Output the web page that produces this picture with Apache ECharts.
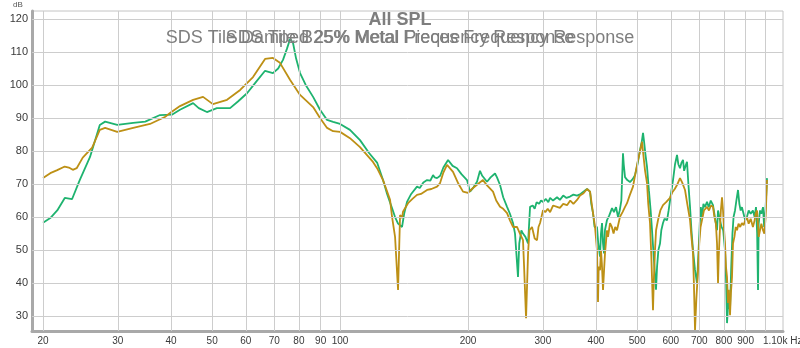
<!DOCTYPE html>
<html>
<head>
<meta charset="utf-8">
<script src="https://cdn.jsdelivr.net/npm/echarts@6/dist/echarts.min.js"></script>
<style>html,body{margin:0;padding:0;background:#fff}#c{width:800px;height:348px}</style>
</head>
<body>
<div id="c"></div>
<script>
// ---- data (frequency in Hz, level in dB) ----
const greenFreq = [20,20.8,21.6,22.5,23.4,24.4,25.8,27.2,28.0,29.9,32.6,34.8,37.7,40.2,42,45.1,46.5,48.6,51.3,55.1,57.5,60.4,63.5,66.6,69.5,71.5,73.4,75,76.3,77.5,78.8,80.5,83,86.4,89.7,93.2,96.3,100,105.5,111.4,117,122.2,126.2,129,132.5,134.7,136.9,139.9,141.5,143.7,147,151.7,154,157,160.2,163,165.5,167,169.1,172,175,179.5,181.4,184,188.4,193,198.9,202.2,206,210,213.4,216,221.7,226,231.5,234,237.9,242,247.1,251,255.2,258,262.2,264,267,269.4,273,276.9,279.9,284,287,290,294,297,300.3,305,309,312,317,324,329,335,341,347.6,354,361,368,375,381.1,387.4,390,393.7,397,402.3,405,408.9,411,413.4,415.6,417.9,420,424.7,430,436.4,441,446,450.8,455,459,463.1,465,468.2,474,481,488,494.3,501,507.9,513,516.2,519,523,527.5,533,538,542,547,553.8,557,561,566,570,575.2,580,587.9,593,599,607.3,614,620.6,625,630.7,636,641.1,645,650,655.1,660,665.9,671,676.8,684,691.6,697,702,706,710.6,716,722,730.1,737,745,754.2,762,766,770.8,775,783.4,790,797,804.9,810,813.7,820,827,832,838,843,849.7,856,863.6,870,876,882.1,890,898,906.3,915,925,936.3,945,952,958,962.5,966,973,980,988.9,995,1003,1010.6];
const greenDb   = [58.3,59.7,62,65.8,65.4,71.2,78.2,87.9,88.9,87.9,88.5,88.9,90.9,91,92.5,94.5,93,91.8,93,93,95,97.5,101,104.3,103.6,105,107.6,111,114,112.7,108,103.6,100,96.4,92.5,89.4,88.8,88.2,86.4,83.3,79.4,76.5,71.2,67,62.7,60,58,57,61,64.6,67,69.2,68.8,70.5,71.2,71,72.7,72,71.8,72.5,75,77.3,77,75.5,74.8,73,71.2,67.7,69,70.7,74,72.5,70.7,72,73.2,72,69.7,66,63.1,61,58.2,55,41.9,52,56,55,54,52,63.1,63.5,62.5,64.5,64,65,64.6,65.5,64.5,65.8,65,66,65.2,66.5,65.8,66.2,66.8,66.5,67,67.8,68.5,67.7,64,61.2,57,57,52,48,55,58.2,52,49,56,59.1,60.5,62.7,61.5,63,60,62,65,79.3,76,72.1,71.2,70.6,71.5,72.7,76,80.3,83,85.5,83,79,75.2,68,62,56,48,38,45,50,52,56,58.2,59.5,59,62,66,71.2,76,78.8,76,74.8,76.5,77.3,74,75.5,76.7,70,63.1,56,50,44,40,49,58,63,60,64,63,64.6,63,65,63.6,60,58,56,62,59,57,56,50,40,27.9,35,31.8,44,55,60,62,65,68.2,64,62,63,61,59,60,62,61,62,60,63,55,37.9,58,62,61,63,57,63,71.8];

const goldFreq = [20,20.8,21.6,22.5,23,23.5,24.0,24.8,26.1,27.2,28.0,29.9,32.6,35.7,38.7,39.8,42.0,45.1,47.6,50.2,54.2,58.2,62.4,66.6,69.5,72.2,76.3,80.5,86.4,89.7,93.2,96.3,100,105.5,111.4,119.5,122.2,126.2,131.1,132.5,134.7,136.9,138.4,139.9,140.6,142,144.5,148,151.7,155,160.2,164,169.1,171.9,175,178.5,184.4,190,194.7,200,205.5,211,216.9,222,229,233,237.9,242,247.1,251,255.2,260.8,265,269.4,271,273.9,275.5,276.9,279,282.9,287,290.7,293,295.5,300.3,304,308,312,317,324,329,335,342,348,354,361,367,374,381.1,387.4,393.7,398,402.3,404.5,406,408.9,411,413,415.6,418,420.1,424.7,427,431.7,436,440,444,448.3,455.7,462,468,473.3,480,488.9,495,502.4,508,513.4,517,522,527.5,531,536.1,540,544.9,547,550.8,554,559.9,567,575.2,585,597.5,605,613,620.6,630.7,638,648.1,656,665.9,671,676.8,680,684.2,689,695.4,700,705,710.6,718,724,730.1,738,746,754.2,760,766,770.8,775,778,783.4,787,791.9,796.2,800,804.9,809,813.7,818.1,822,827,831,836,840.5,847,853,859,866,874,882.1,890,898,906.3,915,925,936.3,945,950,957.3,962,966,973,980,988.9,996,1003,1010.6];
const goldDb   = [71.8,73.3,74.2,75.3,75,74.3,74.8,78,81,86.4,87,85.8,87,88.2,90.3,91.5,93.6,95.5,96.4,94.2,95.5,98.5,102.4,107.9,108.2,106.7,101.5,97,93.3,90,87,86,85.8,83.9,81.2,76.7,74.8,71.2,65.2,60.1,54,37.9,60.6,59.7,61.6,61,64.2,65.5,66.7,67,68.2,68.5,69.2,70.3,73.5,75.8,73.7,70,67.7,67.3,68.8,70,71.2,69.5,67.7,65,63.1,62.5,61.2,59,57,57,55,53,45,29.4,40,49,56,57,53.5,53,57,58.2,62.1,61.5,62.5,61.5,63.5,63.1,62.8,64,63.6,65,64,65.2,66.5,67.2,68.5,67.7,61.2,57,50,34.3,45,43.9,50,46,37.9,44,49,56,54,58.2,57,55,57,56,60.1,61.5,63,64.2,66.5,69.2,73,77.3,80,82.8,79,74,70.3,64,58.2,48,31.8,40,50,56,59.1,62,63.6,64.5,65.8,67.5,68.5,69.7,71.8,70.5,68.2,64,59.1,54,49,40,25.8,35,43.9,52,57,59.1,62,61.5,63.1,62,63.5,63.1,60,58,52,40,48,57,62,66,62,57,52,45,41.8,34,38,30.3,37,41.8,52,54,57,56,58,57,58.2,57.5,59,60,58,59.5,57,59,61,62,58,54,54,58,56,55,60,71.2];

const xTickValues = [20,30,40,50,60,70,80,90,100,200,300,400,500,600,700,800,900,1000,1100];
const xTickLabels = ['20','30','40','50','60','70','80','90','100','200','300','400','500','600','700','800','900','','1.10k Hz'];
const yTickValues = [30,40,50,60,70,80,90,100,110,120];
const titleMain = 'All SPL';
const titleA = 'SDS Tile Damped 25% Metal Pieces Frequency Response';
const titleB = 'SDS Tile B25% Metal Frequency Response';
const yUnit = 'dB';

// ---- chart ----
const X_MIN = 18.84, X_MAX = 1102, Y_MIN = 25.5, Y_MAX = 122.4;
const FONT = '"Liberation Sans", Arial, sans-serif';
const pair = (fs, vs) => fs.map((f, i) => [f, vs[i]]);
const lblStyle = { color: '#3a3a3a', fontFamily: FONT };

const gridMarks = [];
xTickValues.forEach((v, i) => gridMarks.push({
  xAxis: v,
  lineStyle: v > 1000 ? { color: 'rgba(0,0,0,0)' } : undefined,
  label: Object.assign({ show: true, position: 'start', formatter: xTickLabels[i], distance: 5, fontSize: 10 }, lblStyle)
}));
yTickValues.forEach(v => gridMarks.push({
  yAxis: v,
  label: Object.assign({ show: true, position: 'start', formatter: String(v), distance: 4, fontSize: 11 }, lblStyle)
}));

const chart = echarts.init(document.getElementById('c'), null, { renderer: 'canvas' });
chart.setOption({
  animation: false,
  backgroundColor: '#ffffff',
  title: [
    { text: titleMain, left: 'center', top: 11, padding: 0, textStyle: { fontSize: 18, fontWeight: 'bold', color: '#7e7e7e', fontFamily: FONT } },
    { text: titleA, left: 'center', top: 29, padding: 0, textStyle: { fontSize: 18, fontWeight: 'normal', color: '#7e7e7e', fontFamily: FONT } },
    { text: titleB, left: 'center', top: 29, padding: 0, textStyle: { fontSize: 18, fontWeight: 'normal', color: '#7e7e7e', fontFamily: FONT } },
    { text: yUnit, left: 13, top: 1, padding: 0, textStyle: { fontSize: 8, fontWeight: 'normal', color: '#555', fontFamily: FONT } }
  ],
  grid: { left: 32, right: 17, top: 11, bottom: 17, show: true, borderColor: '#c4c4c4', borderWidth: 1, backgroundColor: '#fff' },
  xAxis: {
    type: 'log', logBase: 10, min: X_MIN, max: X_MAX,
    axisLine: { show: true, lineStyle: { color: '#a9a9a9', width: 3 } },
    axisTick: { show: false }, axisLabel: { show: false }, splitLine: { show: false }, minorSplitLine: { show: false }
  },
  yAxis: {
    type: 'value', min: Y_MIN, max: Y_MAX,
    axisLine: { show: true, lineStyle: { color: '#a9a9a9', width: 3 } },
    axisTick: { show: false }, axisLabel: { show: false }, splitLine: { show: false }
  },
  series: [
    {
      name: 'grid', type: 'line', data: [[100, -100]], z: 1, silent: true,
      lineStyle: { opacity: 0 }, showSymbol: false,
      markLine: {
        silent: true, symbol: ['none', 'none'], animation: false,
        lineStyle: { color: '#cdcdcd', width: 1, type: 'solid' },
        emphasis: { disabled: true },
        data: gridMarks
      }
    },
    {
      name: titleB, type: 'line', z: 3, data: pair(greenFreq, greenDb),
      showSymbol: false, symbol: 'none', lineStyle: { color: '#1eb36f', width: 1.8 }
    },
    {
      name: titleA, type: 'line', z: 4, data: pair(goldFreq, goldDb),
      showSymbol: false, symbol: 'none', lineStyle: { color: '#bd9015', width: 1.8 }
    }
  ]
});
</script>
</body>
</html>
